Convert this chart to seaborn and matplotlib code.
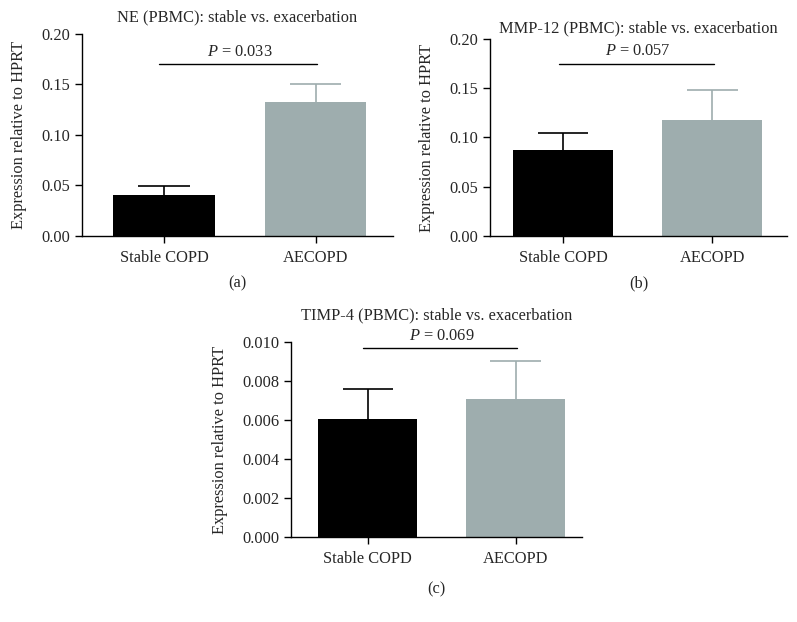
import pandas as pd
import seaborn as sns
import matplotlib.pyplot as plt

# ---- data ----
groups = ["Stable COPD", "AECOPD"]

ne_means = [0.041, 0.133]
ne_upper = [0.049, 0.150]
ne_p = "0.033"

mmp12_means = [0.087, 0.118]
mmp12_upper = [0.105, 0.148]
mmp12_p = "0.057"

timp4_means = [0.00605, 0.0071]
timp4_upper = [0.0076, 0.0090]
timp4_p = "0.069"

bar_colors = ["#000000", "#9eadae"]

sns.set_theme(style="ticks")
plt.rcParams['font.family'] = ['Liberation Serif', 'DejaVu Serif']
plt.rcParams['mathtext.fontset'] = 'custom'
plt.rcParams['mathtext.it'] = 'Liberation Serif:italic'
plt.rcParams['mathtext.rm'] = 'Liberation Serif'

FS = 11.8

fig = plt.figure(figsize=(7.97, 6.22), dpi=100)

# panel specs: (axes rect, title, means, upper, p, ylim, yticks, fmt, p_y, xlim, label,
#               title pad, label y)
panels = [
    ([0.1029, 0.6206, 0.3902, 0.3248], "NE (PBMC): stable vs. exacerbation",
     ne_means, ne_upper, ne_p, (0, 0.20), [0, 0.05, 0.10, 0.15, 0.20], "{:.2f}",
     0.170, (-0.54, 1.51), "(a)", 9, -0.235),
    ([0.6148, 0.6206, 0.3726, 0.3167], "MMP-12 (PBMC): stable vs. exacerbation",
     mmp12_means, mmp12_upper, mmp12_p, (0, 0.20), [0, 0.05, 0.10, 0.15, 0.20], "{:.2f}",
     0.175, (-0.49, 1.50), "(b)", 5, -0.24),
    ([0.3651, 0.1367, 0.3651, 0.3135], "TIMP-4 (PBMC): stable vs. exacerbation",
     timp4_means, timp4_upper, timp4_p, (0, 0.010),
     [0, 0.002, 0.004, 0.006, 0.008, 0.010], "{:.3f}",
     0.0097, (-0.52, 1.45), "(c)", 16, -0.27),
]

for (rect, title, means, upper, pval, ylim, yticks, fmt, p_y, xlim, label,
     tpad, label_y) in panels:
    ax = fig.add_axes(rect)
    df = pd.DataFrame({"group": groups, "value": means})
    sns.barplot(data=df, x="group", y="value", hue="group", palette=bar_colors,
                width=0.67, legend=False, ax=ax, saturation=1, linewidth=0)

    # one-sided (upper) error bars: stem from bar top plus a cap
    for i, (m, u) in enumerate(zip(means, upper)):
        ax.vlines(i, m, u, color=bar_colors[i], lw=1.2)
        ax.hlines(u, i - 0.17, i + 0.17, color=bar_colors[i], lw=1.2)

    # significance line
    ax.plot([-0.03, 1.01], [p_y, p_y], color="black", lw=1, clip_on=False)
    ax.annotate(f"$P$ = {pval}", xy=(0.5, p_y), xytext=(0, 3),
                textcoords="offset points", ha="center", va="bottom",
                fontsize=FS, annotation_clip=False)

    ax.set_ylim(*ylim)
    ax.set_xlim(*xlim)
    ax.set_yticks(yticks)
    ax.set_yticklabels([fmt.format(t) for t in yticks])
    ax.set_xlabel("")
    ax.set_ylabel("Expression relative to HPRT", fontsize=FS, labelpad=10)
    ax.set_title(title, fontsize=FS, pad=tpad)
    ax.tick_params(axis="both", labelsize=FS, length=5, width=1, direction="out",
                   color="black")
    ax.tick_params(axis="x", pad=5)
    sns.despine(ax=ax)
    for s in ["left", "bottom"]:
        ax.spines[s].set_color("black")
        ax.spines[s].set_linewidth(1)
    ax.text(0.5, label_y, label, transform=ax.transAxes, ha="center", va="center",
            fontsize=FS)

fig.savefig("out.png", dpi=100)
